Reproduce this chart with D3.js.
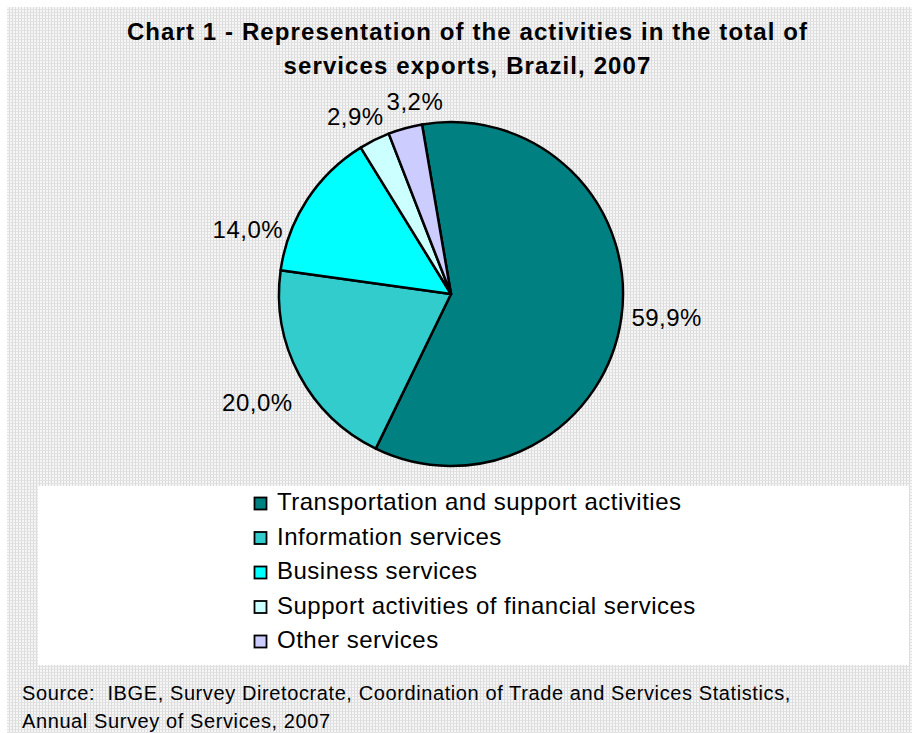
<!DOCTYPE html>
<html>
<head>
<meta charset="utf-8">
<script src="https://cdn.jsdelivr.net/npm/d3@7"></script>
<style>
  html, body { margin: 0; padding: 0; background: #ffffff; }
  svg { display: block; font-family: "Liberation Sans", Arial, sans-serif; }
  text.source { white-space: pre; }
</style>
</head>
<body>
<svg id="chart" width="912" height="733"></svg>
<script>
// Services exports by activity, Brazil, 2007 (share of total, %)
const categories = [
  "Transportation and support activities",
  "Information services",
  "Business services",
  "Support activities of financial services",
  "Other services"
];
const shares = [59.9, 20.0, 14.0, 2.9, 3.2];
const shareLabels = ["59,9%", "20,0%", "14,0%", "2,9%", "3,2%"];
const sliceColors = ["#008080", "#33CCCC", "#00FFFF", "#CCFFFF", "#CCCCFF"];
const titleLines = [
  "Chart 1 - Representation of the activities in the total of",
  "services exports, Brazil, 2007"
];
const sourceLines = [
  "Source:  IBGE, Survey Diretocrate, Coordination of Trade and Services Statistics,",
  "Annual Survey of Services, 2007"
];

// label placement around the pie: [angle in degrees clockwise from 12 o'clock, distance from centre]
const labelPlacement = [[96.3, 217], [240.7, 222], [287.5, 213], [331.7, 202], [349.4, 196]];

const svg = d3.select("#chart");

// hatched chart-area background
const defs = svg.append("defs");
const pat = defs.append("pattern")
  .attr("id", "hatch").attr("patternUnits", "userSpaceOnUse")
  .attr("width", 3).attr("height", 3);
pat.append("rect").attr("width", 3).attr("height", 3).attr("fill", "#f6f6f6");
pat.append("rect").attr("x", 0).attr("y", 0).attr("width", 1).attr("height", 3).attr("fill", "#dadada");
pat.append("rect").attr("x", 0).attr("y", 0).attr("width", 3).attr("height", 1).attr("fill", "#e2e2e2");

svg.append("rect")
  .attr("x", 7).attr("y", 7).attr("width", 905).attr("height", 726)
  .attr("fill", "url(#hatch)");

// title
svg.append("g").selectAll("text").data(titleLines).join("text")
  .attr("x", 467.5).attr("y", (d, i) => 40 + i * 34)
  .attr("text-anchor", "middle")
  .attr("font-size", 24).attr("font-weight", "bold")
  .attr("letter-spacing", 1.1)
  .attr("fill", "#000")
  .text(d => d);

// pie
const cx = 451, cy = 294, radius = 172;
const startOffset = -9.7 * Math.PI / 180;
const pie = d3.pie().sort(null).value(d => d)
  .startAngle(startOffset).endAngle(startOffset + 2 * Math.PI);
const arcs = pie(shares);
const arc = d3.arc().innerRadius(0).outerRadius(radius);

const pieG = svg.append("g").attr("transform", `translate(${cx},${cy})`);
pieG.selectAll("path").data(arcs).join("path")
  .attr("d", arc)
  .attr("fill", (d, i) => sliceColors[i])
  .attr("stroke", "#000").attr("stroke-width", 2.5)
  .attr("stroke-linejoin", "round");

// percentage labels outside the slices
pieG.selectAll("text.pct").data(arcs).join("text")
  .attr("class", "pct")
  .attr("transform", (d, i) => {
    const [deg, r] = labelPlacement[i];
    const a = deg * Math.PI / 180;
    return `translate(${r * Math.sin(a)},${-r * Math.cos(a)})`;
  })
  .attr("text-anchor", "middle")
  .attr("dy", "0.35em")
  .attr("font-size", 24)
  .attr("letter-spacing", 0.5)
  .attr("fill", "#000")
  .text((d, i) => shareLabels[i]);

// legend
const legX = 38, legY = 486, legW = 871, legH = 179;
svg.append("rect")
  .attr("x", legX).attr("y", legY).attr("width", legW).attr("height", legH)
  .attr("fill", "#ffffff");

const rowY = d3.scalePoint().domain(d3.range(categories.length)).range([502, 640]);
const leg = svg.append("g").selectAll("g").data(categories).join("g")
  .attr("transform", (d, i) => `translate(254,${rowY(i)})`);
leg.append("rect")
  .attr("x", 0.5).attr("y", -4.5).attr("width", 12).attr("height", 12)
  .attr("fill", (d, i) => sliceColors[i])
  .attr("stroke", "#000").attr("stroke-width", 1.8);
leg.append("text")
  .attr("x", 23).attr("y", 0).attr("dy", "0.35em")
  .attr("font-size", 24).attr("letter-spacing", 0.5)
  .attr("fill", "#000")
  .text(d => d);

// source note
svg.append("g").selectAll("text").data(sourceLines).join("text")
  .attr("class", "source")
  .attr("x", 22).attr("y", (d, i) => 700 + i * 28)
  .attr("font-size", 20).attr("letter-spacing", 0.6)
  .attr("fill", "#000")
  .text(d => d);
</script>
</body>
</html>
